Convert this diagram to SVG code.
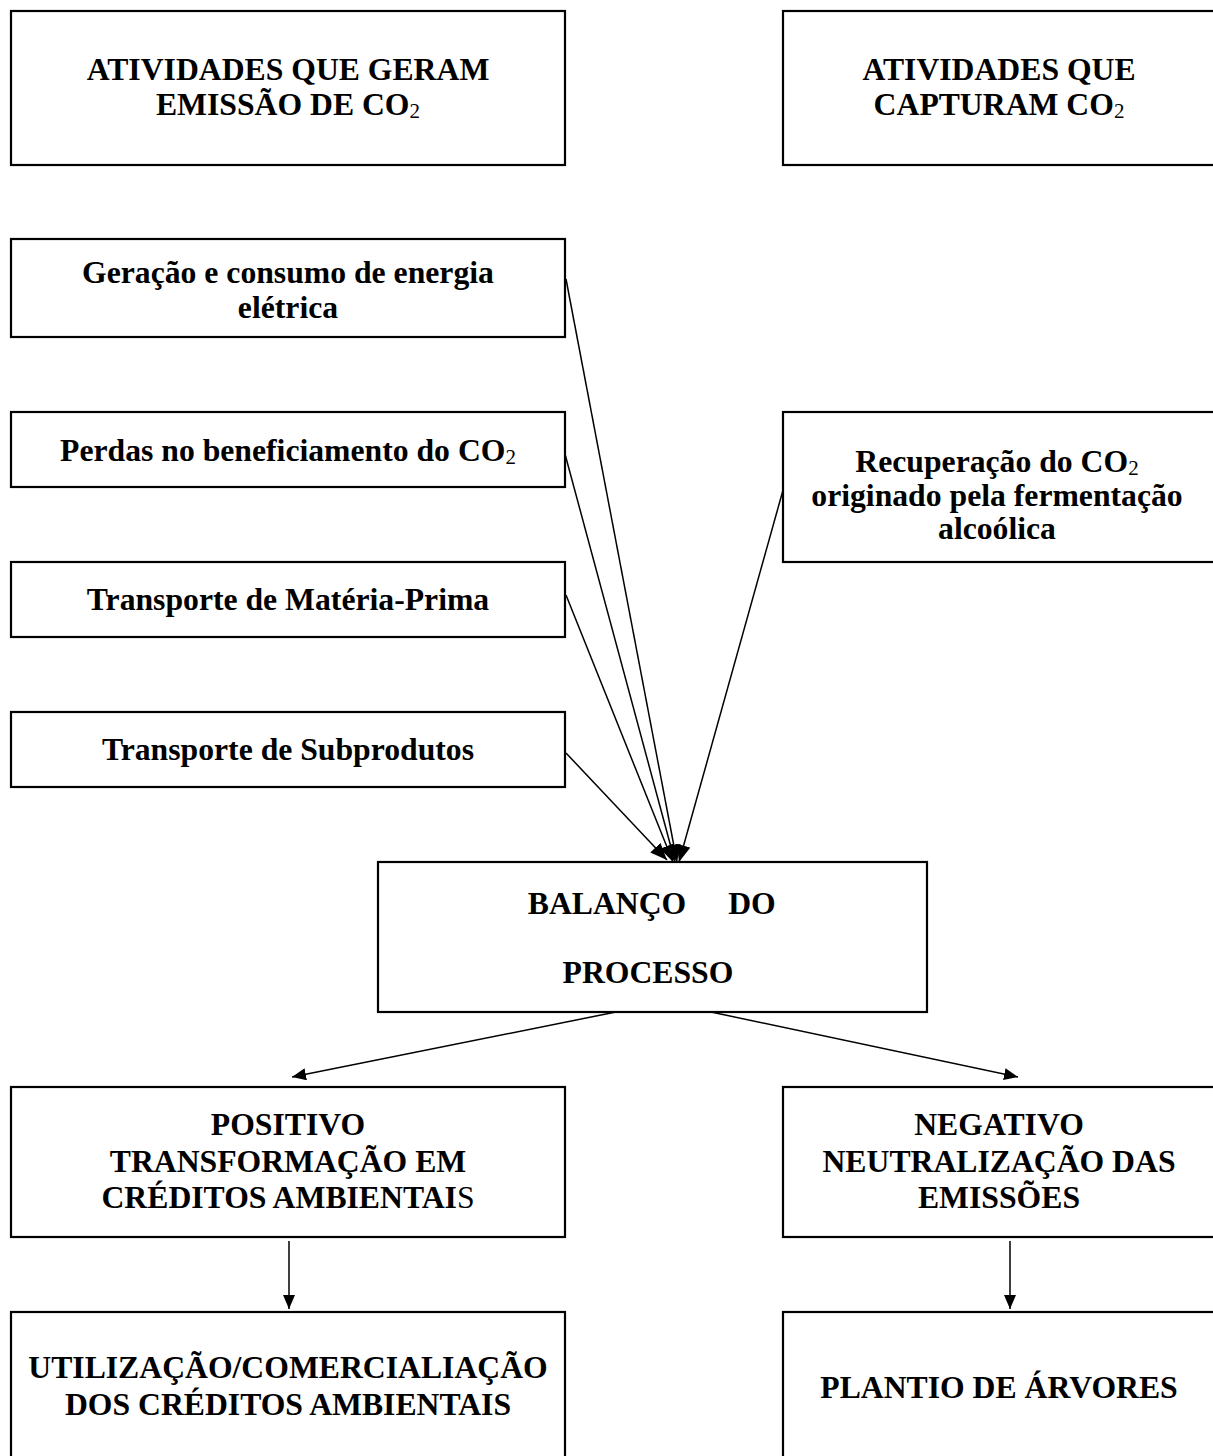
<svg xmlns="http://www.w3.org/2000/svg" width="1213" height="1456" viewBox="0 0 1213 1456">
<style>
  .box { fill: #fff; stroke: #000; stroke-width: 2.2; }
  .t { font-family: "Liberation Serif", "Times New Roman", serif; font-weight: bold; font-size: 31.7px; fill: #000; text-anchor: middle; }
  .sub { font-weight: normal; font-size: 21px; }
  .c { fill: none; stroke: #000; stroke-width: 1.5; }
</style>
<defs>
  <marker id="ah" markerUnits="userSpaceOnUse" markerWidth="18" markerHeight="14" refX="17" refY="7" orient="auto">
    <path d="M0,0 L17,7 L0,14 z" fill="#000"/>
  </marker>
  <marker id="ahs" markerUnits="userSpaceOnUse" markerWidth="15" markerHeight="12" refX="14" refY="6" orient="auto">
    <path d="M0,0 L14,6 L0,12 z" fill="#000"/>
  </marker>
</defs>
<rect width="1213" height="1456" fill="#fff"/>

<g id="connectors">
  <line class="c" x1="566" y1="279" x2="677" y2="862" marker-end="url(#ah)"/>
  <line class="c" x1="565" y1="454" x2="675" y2="862" marker-end="url(#ah)"/>
  <line class="c" x1="566" y1="595" x2="673" y2="862" marker-end="url(#ah)"/>
  <line class="c" x1="566" y1="753" x2="667" y2="860" marker-end="url(#ah)"/>
  <line class="c" x1="785" y1="483" x2="679" y2="862" marker-end="url(#ah)"/>
  <line class="c" x1="616" y1="1012" x2="292" y2="1077" marker-end="url(#ahs)"/>
  <line class="c" x1="711" y1="1012" x2="1018" y2="1077" marker-end="url(#ahs)"/>
  <line class="c" x1="289" y1="1241" x2="289" y2="1309" marker-end="url(#ahs)"/>
  <line class="c" x1="1010" y1="1241" x2="1010" y2="1309" marker-end="url(#ahs)"/>
</g>

<g id="emissao">
  <rect class="box" x="11" y="11" width="554" height="154"/>
  <text class="t" x="288" y="80">ATIVIDADES QUE GERAM</text>
  <text class="t" x="288" y="115">EMISSÃO DE CO<tspan class="sub" dy="3">2</tspan></text>
</g>

<g id="captura">
  <rect class="box" x="783" y="11" width="432" height="154"/>
  <text class="t" x="999" y="80">ATIVIDADES QUE</text>
  <text class="t" x="999" y="115">CAPTURAM CO<tspan class="sub" dy="3">2</tspan></text>
</g>

<g id="geracao">
  <rect class="box" x="11" y="239" width="554" height="98"/>
  <text class="t" x="288" y="283">Geração e consumo de energia</text>
  <text class="t" x="288" y="318">elétrica</text>
</g>

<g id="perdas">
  <rect class="box" x="11" y="412" width="554" height="75"/>
  <text class="t" x="288" y="461">Perdas no beneficiamento do CO<tspan class="sub" dy="3">2</tspan></text>
</g>

<g id="recuperacao">
  <rect class="box" x="783" y="412" width="432" height="150"/>
  <text class="t" x="997" y="472">Recuperação do CO<tspan class="sub" dy="3">2</tspan></text>
  <text class="t" x="997" y="506">originado pela fermentação</text>
  <text class="t" x="997" y="539">alcoólica</text>
</g>

<g id="materia">
  <rect class="box" x="11" y="562" width="554" height="75"/>
  <text class="t" x="288" y="610">Transporte de Matéria-Prima</text>
</g>

<g id="subprodutos">
  <rect class="box" x="11" y="712" width="554" height="75"/>
  <text class="t" x="288" y="760">Transporte de Subprodutos</text>
</g>

<g id="balanco">
  <rect class="box" x="378" y="862" width="549" height="150"/>
  <text class="t" y="914"><tspan x="607">BALANÇO</tspan><tspan x="752">DO</tspan></text>
  <text class="t" x="648" y="983">PROCESSO</text>
</g>

<g id="positivo">
  <rect class="box" x="11" y="1087" width="554" height="150"/>
  <text class="t" x="288" y="1135">POSITIVO</text>
  <text class="t" x="288" y="1172">TRANSFORMAÇÃO EM</text>
  <text class="t" x="288" y="1208">CRÉDITOS AMBIENTAI<tspan font-weight="normal">S</tspan></text>
</g>

<g id="negativo">
  <rect class="box" x="783" y="1087" width="432" height="150"/>
  <text class="t" x="999" y="1135">NEGATIVO</text>
  <text class="t" x="999" y="1172">NEUTRALIZAÇÃO DAS</text>
  <text class="t" x="999" y="1208">EMISSÕES</text>
</g>

<g id="utilizacao">
  <rect class="box" x="11" y="1312" width="554" height="160"/>
  <text class="t" x="288" y="1378">UTILIZAÇÃO/COMERCIALIAÇÃO</text>
  <text class="t" x="288" y="1415">DOS CRÉDITOS AMBIENTAIS</text>
</g>

<g id="plantio">
  <rect class="box" x="783" y="1312" width="432" height="160"/>
  <text class="t" x="999" y="1398">PLANTIO DE ÁRVORES</text>
</g>
</svg>
